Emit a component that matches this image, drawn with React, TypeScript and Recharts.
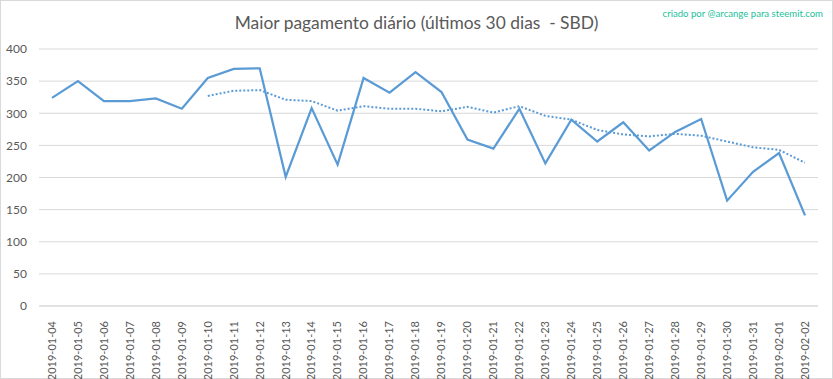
import { CartesianGrid, Line, LineChart, XAxis, YAxis } from "recharts"

const dates = [
    "2019-01-04", "2019-01-05", "2019-01-06", "2019-01-07", "2019-01-08", "2019-01-09",
    "2019-01-10", "2019-01-11", "2019-01-12", "2019-01-13", "2019-01-14", "2019-01-15",
    "2019-01-16", "2019-01-17", "2019-01-18", "2019-01-19", "2019-01-20", "2019-01-21",
    "2019-01-22", "2019-01-23", "2019-01-24", "2019-01-25", "2019-01-26", "2019-01-27",
    "2019-01-28", "2019-01-29", "2019-01-30", "2019-01-31", "2019-02-01", "2019-02-02",
]

const payout = [
    324, 350, 319, 319, 323, 307, 355, 369, 370, 201, 308, 220,
    355, 332, 364, 333, 259, 245, 307, 222, 290, 256, 286, 242,
    271, 291, 164, 209, 238, 141,
]

// moving average, starts at 01-10
const trend = [
    null, null, null, null, null, null, 327, 335, 336, 321, 319, 304,
    311, 307, 307, 303, 310, 301, 311, 296, 290, 274, 267, 264,
    268, 265, 256, 247, 243, 223,
]

const yTicks = [0, 50, 100, 150, 200, 250, 300, 350, 400]

const data = dates.map((d, i) => ({ date: d, payout: payout[i], trend: trend[i] }))

const font = "Lato, 'Open Sans', sans-serif"

function DateTick({ x, y, payload }: any) {
    return (
        <text
            x={x}
            y={y + 7}
            transform={`rotate(-90, ${x}, ${y + 7})`}
            textAnchor="end"
            dy="0.35em"
            fontSize={11}
            fill="#595959"
            fontFamily={font}
        >
            {payload.value}
        </text>
    )
}

export default function App() {
    return (
        <div style={{ position: "fixed", left: 0, top: 0, width: 833, height: 379, background: "#fff" }}>
            <div style={{ position: "absolute", inset: 0, border: "1px solid #d9d9d9", boxSizing: "border-box" }} />
            <div
                style={{
                    position: "absolute", left: 0, width: 833, top: 12, textAlign: "center",
                    fontFamily: font, fontSize: 17.4, color: "#595959",
                }}
            >
                Maior pagamento diário (últimos 30 dias&nbsp; - SBD)
            </div>
            <div
                style={{
                    position: "absolute", right: 10, top: 8, fontFamily: font, fontSize: 9.6, color: "#1dbf9b",
                }}
            >
                criado por @arcange para steemit.com
            </div>
            <LineChart width={833} height={379} data={data} margin={{ top: 49, right: 15, bottom: 0, left: 0 }}>
                <CartesianGrid vertical={false} stroke="#d9d9d9" />
                <XAxis
                    dataKey="date"
                    height={73}
                    interval={0}
                    tickLine={false}
                    axisLine={{ stroke: "#d9d9d9" }}
                    padding={{ left: 13, right: 13 }}
                    tick={<DateTick />}
                />
                <YAxis
                    width={39}
                    domain={[0, 400]}
                    ticks={yTicks}
                    tickLine={false}
                    axisLine={false}
                    tickMargin={6}
                    tick={{ fontSize: 12, fill: "#595959", fontFamily: font }}
                />
                <Line
                    type="linear"
                    dataKey="payout"
                    stroke="#5b9bd5"
                    strokeWidth={2.25}
                    dot={false}
                    isAnimationActive={false}
                />
                <Line
                    type="linear"
                    dataKey="trend"
                    stroke="#5b9bd5"
                    strokeWidth={2}
                    strokeDasharray="2 2"
                    dot={false}
                    isAnimationActive={false}
                />
            </LineChart>
        </div>
    )
}
